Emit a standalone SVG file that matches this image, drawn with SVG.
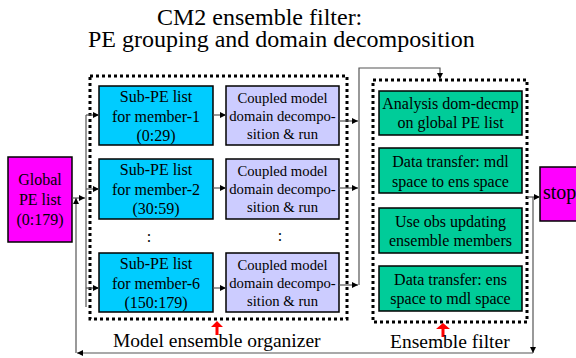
<svg xmlns="http://www.w3.org/2000/svg" width="576" height="358" viewBox="0 0 576 358" font-family="Liberation Serif, serif">
<style>
text{font-family:'Liberation Serif','Times New Roman',serif;fill:#000}
.t{font-size:24px}
.b{font-size:16px;text-anchor:middle}
.s{font-size:14.7px}
.lbl{font-size:19.5px}
.dot{fill:none;stroke:#000;stroke-width:3;stroke-dasharray:3 3}
.box{stroke:#000;stroke-width:1.5}
.cy{fill:#00CCFF}
.lv{fill:#CCCCFF}
.gr{fill:#00CC99}
.mg{fill:#FF00FF}
.c{fill:none;stroke:#555;stroke-width:1.2}
.red{fill:#FF0000}
</style>
<defs>
<marker id="ah" viewBox="0 0 8 8" refX="8" refY="4" markerWidth="6" markerHeight="6" markerUnits="userSpaceOnUse" orient="auto">
<path d="M0,0 L8,4 L0,8 z" fill="#000"/>
</marker>
</defs>

<text class="t" x="157" y="25">CM2 ensemble filter:</text>
<text class="t" x="88" y="47">PE grouping and domain decomposition</text>

<rect class="dot" x="90" y="76" width="257" height="243"/>
<rect class="dot" x="373" y="80" width="154" height="242"/>

<g id="global">
<rect class="box mg" x="8" y="157" width="64" height="85"/>
<text class="b" x="40" y="185">Global</text>
<text class="b" x="40" y="205">PE list</text>
<text class="b" x="40" y="225">(0:179)</text>
</g>

<g id="sub1">
<rect class="box cy" x="99" y="86" width="114" height="59"/>
<text class="b" x="156" y="102">Sub-PE list</text>
<text class="b" x="156" y="122">for member-1</text>
<text class="b" x="156" y="141">(0:29)</text>
</g>
<g id="sub2">
<rect class="box cy" x="99" y="159" width="114" height="60"/>
<text class="b" x="156" y="175">Sub-PE list</text>
<text class="b" x="156" y="195">for member-2</text>
<text class="b" x="156" y="214">(30:59)</text>
</g>
<g id="sub6">
<rect class="box cy" x="99" y="253" width="114" height="59"/>
<text class="b" x="156" y="269">Sub-PE list</text>
<text class="b" x="156" y="289">for member-6</text>
<text class="b" x="156" y="308">(150:179)</text>
</g>
<text class="b" x="149" y="242">:</text>

<g id="cm1">
<rect class="box lv" x="226" y="86" width="113" height="59"/>
<text class="b s" x="282.5" y="103">Coupled model</text>
<text class="b s" x="282.5" y="121">domain decompo-</text>
<text class="b s" x="282.5" y="139">sition &amp; run</text>
</g>
<g id="cm2">
<rect class="box lv" x="226" y="159" width="113" height="60"/>
<text class="b s" x="282.5" y="176">Coupled model</text>
<text class="b s" x="282.5" y="194">domain decompo-</text>
<text class="b s" x="282.5" y="212">sition &amp; run</text>
</g>
<g id="cm6">
<rect class="box lv" x="226" y="253" width="113" height="59"/>
<text class="b s" x="282.5" y="270">Coupled model</text>
<text class="b s" x="282.5" y="288">domain decompo-</text>
<text class="b s" x="282.5" y="306">sition &amp; run</text>
</g>
<text class="b" x="280" y="241">:</text>

<g id="ef1">
<rect class="box gr" x="379" y="91" width="143" height="44"/>
<text class="b" x="450.5" y="109">Analysis dom-decmp</text>
<text class="b" x="450.5" y="128">on global PE list</text>
</g>
<g id="ef2">
<rect class="box gr" x="379" y="148" width="143" height="45"/>
<text class="b" x="450.5" y="167">Data transfer: mdl</text>
<text class="b" x="450.5" y="187">space to ens space</text>
</g>
<g id="ef3">
<rect class="box gr" x="379" y="208" width="143" height="45"/>
<text class="b" x="450.5" y="227">Use obs updating</text>
<text class="b" x="450.5" y="246">ensemble members</text>
</g>
<g id="ef4">
<rect class="box gr" x="379" y="266" width="143" height="45"/>
<text class="b" x="450.5" y="285">Data transfer: ens</text>
<text class="b" x="450.5" y="304">space to mdl space</text>
</g>

<g id="stop">
<rect class="box mg" x="540" y="167" width="40" height="54"/>
<text x="543" y="199" font-size="20">stop</text>
</g>

<g id="connectors">
<path class="c" d="M72,198 H85" marker-end="url(#ah)"/>
<path class="c" d="M86,115 V307"/>
<path class="c" d="M86,115 H99" marker-end="url(#ah)"/>
<path class="c" d="M86,189 H99" marker-end="url(#ah)"/>
<path class="c" d="M86,288 H99" marker-end="url(#ah)"/>
<path class="c" d="M213,115 H226" marker-end="url(#ah)"/>
<path class="c" d="M213,188 H226" marker-end="url(#ah)"/>
<path class="c" d="M213,288 H226" marker-end="url(#ah)"/>
<path class="c" d="M339,121 H358" marker-end="url(#ah)"/>
<path class="c" d="M339,188 H358" marker-end="url(#ah)"/>
<path class="c" d="M339,285 H358" marker-end="url(#ah)"/>
<path class="c" d="M359,285 V68 H440 V79" marker-end="url(#ah)"/>
<path class="c" d="M527,197 H540" marker-end="url(#ah)"/>
<path class="c" d="M533,197 V353" marker-end="url(#ah)"/>
<path class="c" d="M533,353 H77" marker-end="url(#ah)"/>
<path class="c" d="M76,353 V198" marker-end="url(#ah)"/>
</g>

<path class="red" d="M217,321 L223,327 H218.5 V335 H215.5 V327 H211 z"/>
<path class="red" d="M443,323 L450,329 H444.5 V337 H441.5 V329 H436 z"/>

<text class="lbl" x="113" y="347">Model ensemble organizer</text>
<text class="lbl" x="390" y="348">Ensemble filter</text>
</svg>
